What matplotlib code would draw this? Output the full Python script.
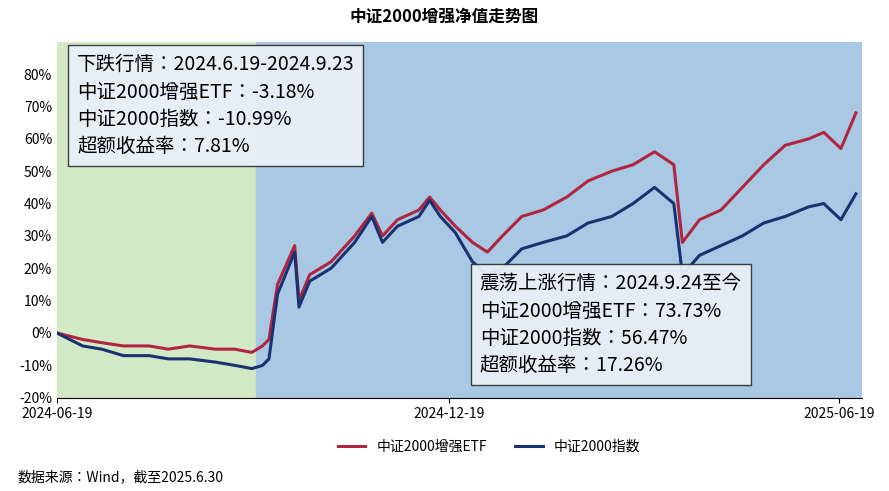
import matplotlib
matplotlib.use("Agg")
import matplotlib.pyplot as plt
import matplotlib.font_manager as fm
import pandas as pd

cjk = sorted({f.name for f in fm.fontManager.ttflist if "CJK" in f.name and "Sans" in f.name})
fams = (["Noto Sans CJK SC"] if "Noto Sans CJK SC" in cjk else cjk[:1]) + ["DejaVu Sans"]
plt.rcParams["font.family"] = "sans-serif"
plt.rcParams["font.sans-serif"] = fams
plt.rcParams["axes.unicode_minus"] = False

etf_dates = ["2024-06-19","2024-07-01","2024-07-10","2024-07-20","2024-08-01","2024-08-10","2024-08-20","2024-09-01","2024-09-10","2024-09-18","2024-09-23","2024-09-26","2024-09-30","2024-10-08","2024-10-10","2024-10-15","2024-10-25","2024-11-05","2024-11-13","2024-11-18","2024-11-25","2024-12-05","2024-12-10","2024-12-15","2024-12-22","2024-12-30","2025-01-06","2025-01-13","2025-01-22","2025-02-01","2025-02-12","2025-02-22","2025-03-05","2025-03-15","2025-03-25","2025-04-03","2025-04-07","2025-04-15","2025-04-25","2025-05-05","2025-05-15","2025-05-25","2025-06-05","2025-06-12","2025-06-20","2025-06-27"]
etf_vals = [0,-2,-3,-4,-4,-5,-4,-5,-5,-6,-4,-2,15,27,10,18,22,30,37,30,35,38,42,38,33,28,25,30,36,38,42,47,50,52,56,52,28,35,38,45,52,58,60,62,57,68]
idx_vals = [0,-4,-5,-7,-7,-8,-8,-9,-10,-11,-10,-8,12,25,8,16,20,28,36,28,33,36,41,36,31,22,18,20,26,28,30,34,36,40,45,40,18,24,27,30,34,36,39,40,35,43]

dates = pd.to_datetime(etf_dates)
xticks = ["2024-06-19", "2024-12-19", "2025-06-19"]

fig = plt.figure(figsize=(8.89, 4.91), dpi=100)
ax = fig.add_axes([0.064, 0.19, 0.906, 0.725])
split = pd.Timestamp("2024-09-20")
x0, x1 = pd.Timestamp("2024-06-19"), pd.Timestamp("2025-06-30")
ax.axvspan(x0, split, color="#d3e8c4", zorder=0)
ax.axvspan(split, x1, color="#a9c8e3", zorder=0)
ax.plot(dates, etf_vals, color="#b0253f", lw=2.2, label="中证2000增强ETF")
ax.plot(dates, idx_vals, color="#1a3272", lw=2.2, label="中证2000指数")
ax.set_xlim(x0, x1)
ax.set_ylim(-20, 90)
ax.set_yticks(range(-20, 90, 10))
ax.set_yticklabels([f"{v}%" for v in range(-20, 90, 10)], fontsize=10)
ax.set_xticks(pd.to_datetime(xticks))
ax.set_xticklabels(xticks, fontsize=10)
for s in ["top", "right", "left"]:
    ax.spines[s].set_visible(False)
ax.tick_params(axis="y", length=0)

box = dict(boxstyle="square,pad=0.45", fc="#e8f0f8", ec="#333333", lw=1, alpha=0.95)
ax.text(0.025, 0.965, "下跌行情：2024.6.19-2024.9.23\n中证2000增强ETF：-3.18%\n中证2000指数：-10.99%\n超额收益率：7.81%",
        transform=ax.transAxes, va="top", ha="left", fontsize=14, linespacing=1.4, bbox=box)
ax.text(0.525, 0.35, "震荡上涨行情：2024.9.24至今\n中证2000增强ETF：73.73%\n中证2000指数：56.47%\n超额收益率：17.26%",
        transform=ax.transAxes, va="top", ha="left", fontsize=14, linespacing=1.4, bbox=box)

fig.suptitle("中证2000增强净值走势图", y=0.985, fontsize=12, fontweight="bold")
fig.legend(loc="lower center", bbox_to_anchor=(0.55, 0.05), ncol=2, frameon=False, fontsize=10)
fig.text(0.02, 0.02, "数据来源：Wind，截至2025.6.30", fontsize=10)
fig.savefig("out.png", dpi=100)
